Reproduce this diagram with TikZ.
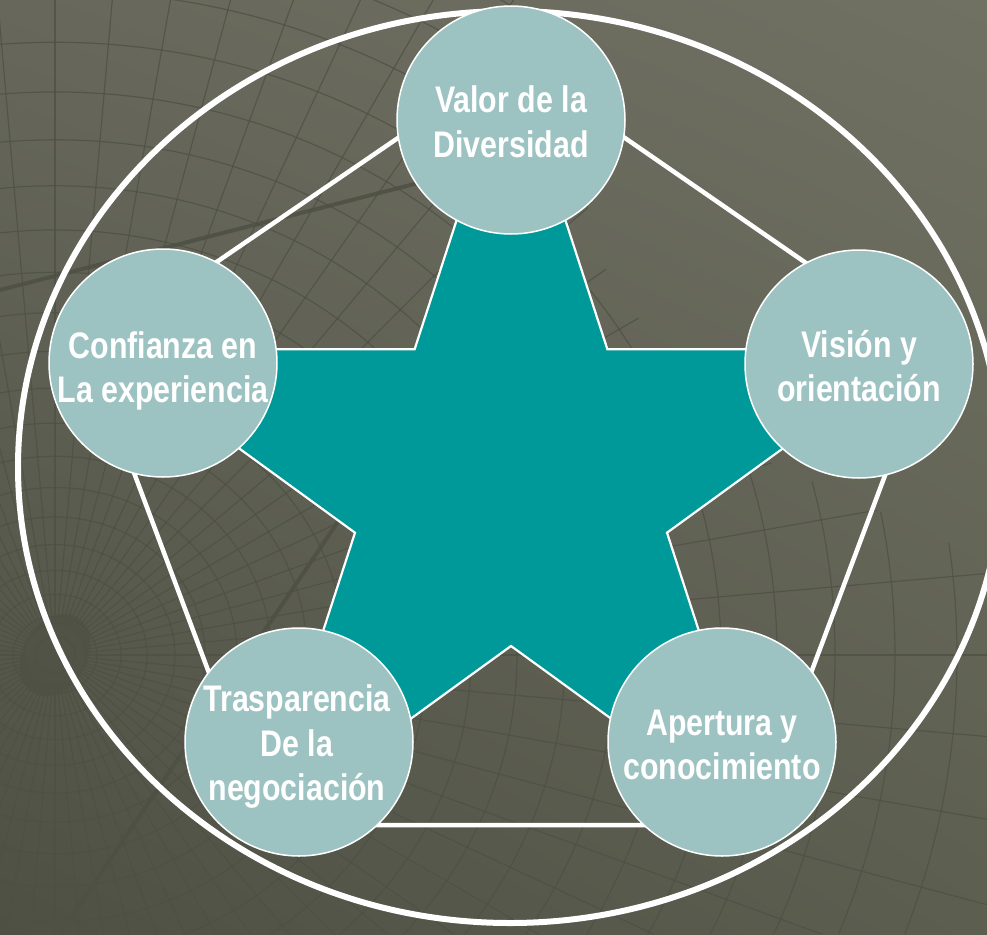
\documentclass[tikz,border=0pt]{standalone}
\usepackage{fontspec}
\usetikzlibrary{shadings}
\setmainfont[FakeStretch=0.82]{Liberation Sans}
\definecolor{bgTL}{RGB}{103,104,91}
\definecolor{bgTR}{RGB}{112,113,99}
\definecolor{bgBL}{RGB}{78,80,68}
\definecolor{bgBR}{RGB}{92,94,80}
\definecolor{gridc}{RGB}{78,80,68}
\definecolor{startea}{RGB}{0,153,153}
\definecolor{bubblec}{RGB}{156,195,194}
\tikzset{
  gridline/.style={draw=gridc, line width=1.2pt, opacity=0.75},
  thickgrid/.style={draw=gridc, line width=4pt, opacity=0.85},
  outerring/.style={draw=white, line width=6pt},
  pentaline/.style={draw=white, line width=4.5pt, line join=miter},
  starshape/.style={fill=startea, draw=white, line width=2.2pt, line join=miter},
  bubble/.style={circle, fill=bubblec, draw=white, line width=1.5pt,
    minimum size=228pt, inner sep=0pt},
  bubtext/.style={align=center, text=white, inner sep=0pt,
    font=\bfseries\fontsize{37}{44.5}\selectfont}
}
\begin{document}
\begin{tikzpicture}[x=1pt,y=-1pt]
\useasboundingbox (0,0) rectangle (987,934);
% background
\shade[upper left=bgTL, upper right=bgTR, lower left=bgBL, lower right=bgBR]
  (0,0) rectangle (987,934);
% decorative grid
\begin{scope}
  \clip (0,0) -- (540,0) -- (600,260) -- (720,440) -- (987,560) -- (987,934) -- (0,934) -- cycle;
  \foreach \a in {0,5,...,355} \draw[gridline] (55,655) ++(\a:30) -- ++(\a:950);
  \foreach \k in {1,...,22} {
    \pgfmathsetmacro{\rr}{20*\k+\k*(\k-1)}
    \draw[gridline] (55,655) ellipse ({\rr} and {0.92*\rr});
  }
  \fill[gridc, opacity=0.6, rotate around={-30:(55,655)}] (55,655) ellipse (32 and 44);
  \draw[thickgrid] (0,290) -- (430,180);
  \draw[thickgrid] (60,934) -- (420,400);
\end{scope}
% outer ring
\draw[outerring] (510,467) ellipse (492 and 456);
% pentagon
\coordinate (p1) at (512,60);
\coordinate (p2) at (932,350);
\coordinate (p3) at (754,825);
\coordinate (p4) at (266,825);
\coordinate (p5) at (88,350);
\draw[pentaline] (p1) -- (p2) -- (p3) -- (p4) -- (p5) -- cycle;
% star
\coordinate (s1) at (511,53);
\coordinate (s2) at (414.6,349.3);
\coordinate (s3) at (103,349.4);
\coordinate (s4) at (355,532.7);
\coordinate (s5) at (258.8,829);
\coordinate (s6) at (511,646);
\coordinate (s7) at (763.2,829);
\coordinate (s8) at (667,532.7);
\coordinate (s9) at (919,349.4);
\coordinate (s10) at (607.4,349.3);
\draw[starshape] (s1) -- (s2) -- (s3) -- (s4) -- (s5) -- (s6) -- (s7) -- (s8) -- (s9) -- (s10) -- cycle;
% bubbles
\node[bubble] (valor) at (511,120) {};
\node[bubble] (vision) at (859,364) {};
\node[bubble] (confianza) at (163,363) {};
\node[bubble] (trasparencia) at (299,742) {};
\node[bubble] (apertura) at (722,742) {};
% texts
\node[bubtext] (valort) at (511,122) {Valor de la\\Diversidad};
\node[bubtext] (visiont) at (859,366) {Visión y\\orientación};
\node[bubtext] (confianzat) at (163,371) {Confianza en\\La experiencia};
\node[bubtext] (trasparenciat) at (297,747) {Trasparencia\\De la\\negociación};
\node[bubtext] (aperturat) at (722,745) {Apertura y\\conocimiento};
\end{tikzpicture}
\end{document}
